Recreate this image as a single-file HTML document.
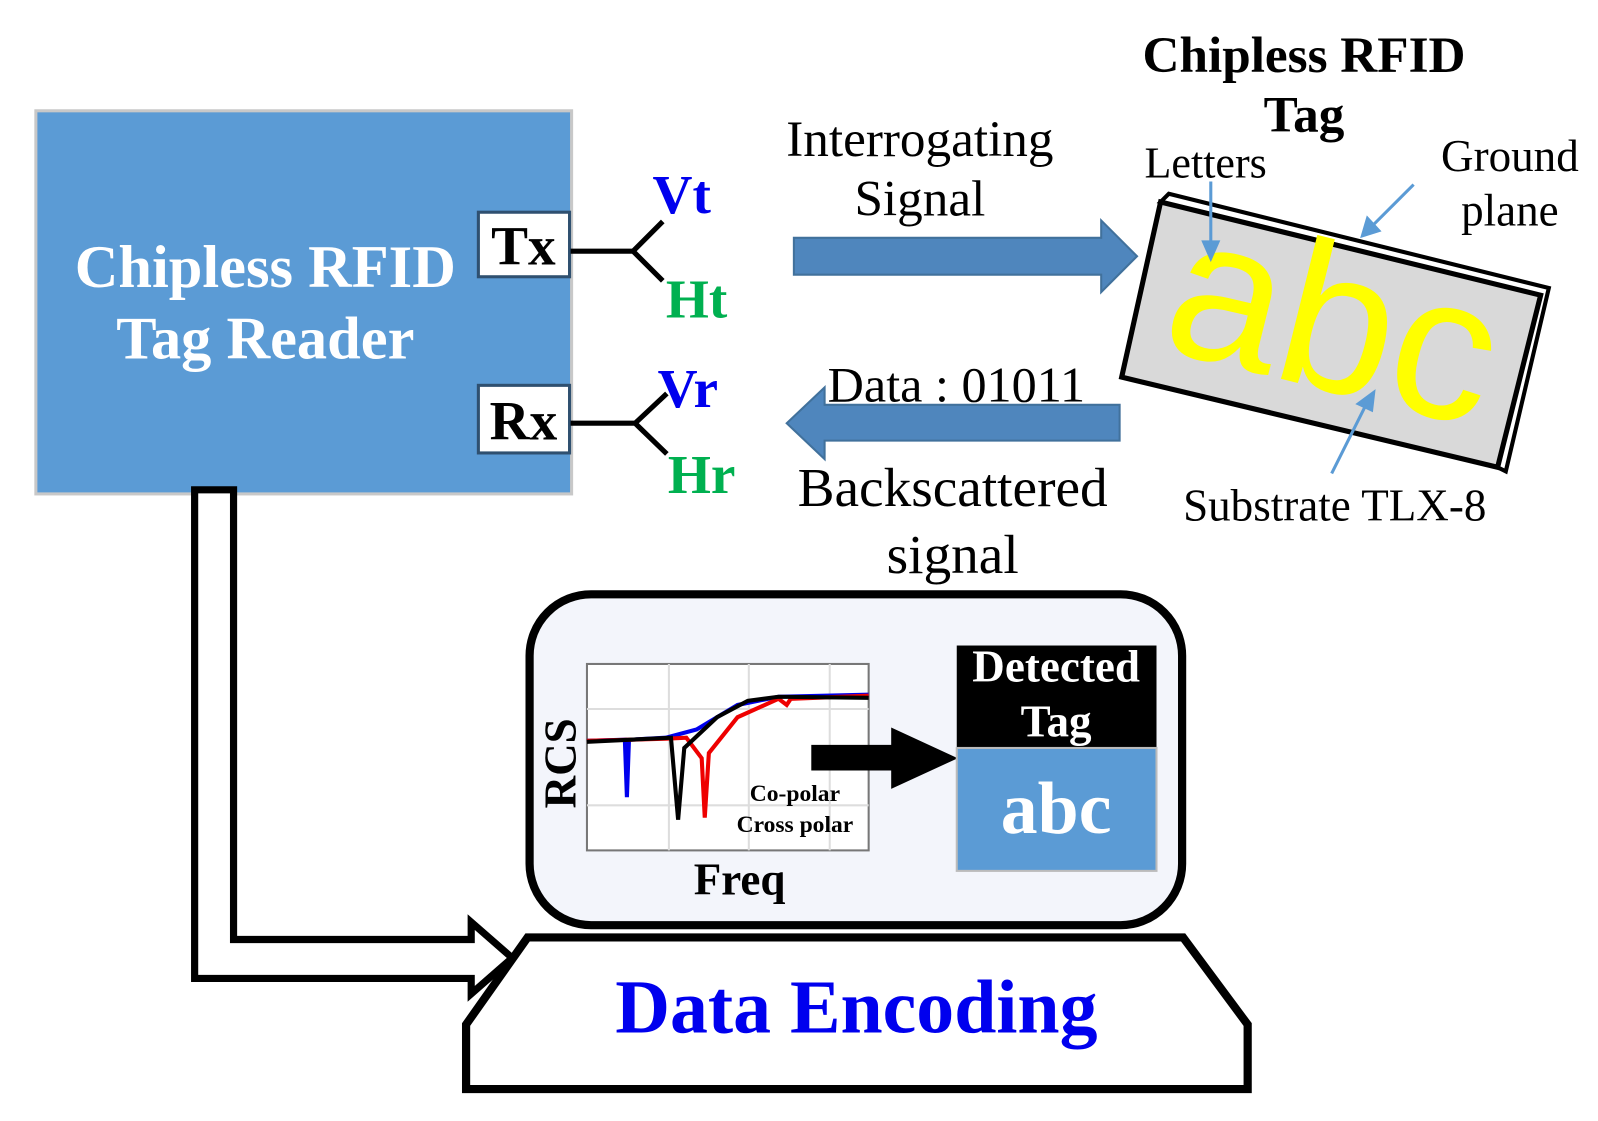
<!DOCTYPE html>
<html><head><meta charset="utf-8"><style>
html,body{margin:0;padding:0;background:#fff;}
svg{display:block;}
text{font-family:"Liberation Serif",serif;}
</style></head><body>
<svg width="1598" height="1121" viewBox="0 0 1560 1094" xmlns="http://www.w3.org/2000/svg">
<rect x="35" y="108" width="523" height="374" fill="#5b9bd5" stroke="#c8c8c8" stroke-width="3"/>
<text x="259" y="280" font-size="59" font-weight="bold" fill="#fff" text-anchor="middle">Chipless RFID</text>
<text x="259" y="350" font-size="59" font-weight="bold" fill="#fff" text-anchor="middle">Tag Reader</text>
<rect x="467" y="207" width="89" height="63" fill="#fff" stroke="#2f5070" stroke-width="3"/>
<text x="511" y="258" font-size="54" font-weight="bold" text-anchor="middle">Tx</text>
<rect x="467" y="376" width="89" height="66" fill="#fff" stroke="#2f5070" stroke-width="3"/>
<text x="511" y="429" font-size="54" font-weight="bold" text-anchor="middle">Rx</text>
<g stroke="#000" stroke-width="5" fill="none">
<path d="M557 245 H618 L647 216 M618 245 L647 274"/>
<path d="M557 413 H620 L651 384 M620 413 L651 443"/>
</g>
<text x="637" y="208" font-size="54" font-weight="bold" fill="#0000ee">Vt</text>
<text x="650" y="310" font-size="54" font-weight="bold" fill="#00b050">Ht</text>
<text x="642" y="397" font-size="54" font-weight="bold" fill="#0000ee">Vr</text>
<text x="652" y="481" font-size="54" font-weight="bold" fill="#00b050">Hr</text>
<path d="M775 232 H1075 V215 L1110 250 L1075 285 V268 H775 Z" fill="#4f86bd" stroke="#41719c" stroke-width="2"/>
<path d="M1093 395 H805 V378 L768 413 L805 448 V430 H1093 Z" fill="#4f86bd" stroke="#41719c" stroke-width="2"/>
<text x="898" y="152" font-size="50" text-anchor="middle">Interrogating</text>
<text x="898" y="210" font-size="50" text-anchor="middle">Signal</text>
<text x="808" y="392" font-size="49">Data : 01011</text>
<text x="930" y="494" font-size="54" text-anchor="middle">Backscattered</text>
<text x="930" y="559" font-size="54" text-anchor="middle">signal</text>
<text x="1273" y="70" font-size="50" font-weight="bold" text-anchor="middle">Chipless RFID</text>
<text x="1273" y="128" font-size="50" font-weight="bold" text-anchor="middle">Tag</text>
<polygon points="1141,189 1512,281 1470,460 1462,456 1504,288 1133,197" fill="#fff" stroke="#000" stroke-width="4"/>
<polygon points="1133,197 1504,288 1462,456 1095,368" fill="#d9d9d9" stroke="#000" stroke-width="5"/>
<g transform="translate(1298,332) rotate(14)">
<text x="0" y="48" font-size="200" fill="#ffff00" text-anchor="middle" style="font-family:'Liberation Sans',sans-serif">abc</text>
</g>
<text x="1177" y="173" font-size="43" text-anchor="middle">Letters</text>
<text x="1474" y="167" font-size="44" text-anchor="middle">Ground</text>
<text x="1474" y="220" font-size="44" text-anchor="middle">plane</text>
<text x="1303" y="508" font-size="44" text-anchor="middle">Substrate TLX-8</text>
<g stroke="#5b9bd5" stroke-width="3" fill="#5b9bd5">
<line x1="1182" y1="177" x2="1182" y2="240"/><polygon points="1175,236 1189,236 1182,252"/>
<line x1="1380" y1="180" x2="1338" y2="222"/><polygon points="1335,213 1346,225 1330,230"/>
<line x1="1300" y1="462" x2="1335" y2="392"/><polygon points="1326,394 1339,400 1341,383"/>
</g>
<path d="M190 478 V955 H460 V970 L500 935 L460 900 V917 H228 V478 Z" fill="#fff" stroke="#000" stroke-width="7"/>
<rect x="517" y="580" width="637" height="323" rx="60" fill="#f3f5fb" stroke="#000" stroke-width="8"/>
<polygon points="515,915 1155,915 1218,1000 1218,1063 455,1063 455,1000" fill="#fff" stroke="#000" stroke-width="8"/>
<text x="836" y="1008" font-size="74" font-weight="bold" fill="#0000ee" text-anchor="middle">Data Encoding</text>
<rect x="573" y="648" width="275" height="182" fill="#fff" stroke="#777" stroke-width="2"/>
<g stroke="#ddd" stroke-width="2">
<line x1="653" y1="648" x2="653" y2="830"/><line x1="731" y1="648" x2="731" y2="830"/><line x1="810" y1="648" x2="810" y2="830"/>
<line x1="573" y1="692" x2="848" y2="692"/><line x1="573" y1="786" x2="848" y2="786"/>
</g>
<g fill="none" stroke-width="4">
<path d="M573 723 L610 722 L612 778 L614 722 L650 720 L680 712 L720 688 L760 680 L848 678" stroke="#0000ee"/>
<path d="M573 723 L650 721 L670 720 L685 740 L688 798 L692 735 L720 700 L760 682 L768 688 L772 682 L848 679" stroke="#ee0000"/>
<path d="M573 724 L655 720 L662 800 L668 730 L700 700 L730 684 L760 680 L848 681" stroke="#000"/>
</g>
<text x="776" y="782" font-size="23" font-weight="bold" text-anchor="middle">Co-polar</text>
<text x="776" y="812" font-size="23" font-weight="bold" text-anchor="middle">Cross polar</text>
<text transform="translate(562,745) rotate(-90)" font-size="44" font-weight="bold" text-anchor="middle">RCS</text>
<text x="722" y="873" font-size="44" font-weight="bold" text-anchor="middle">Freq</text>
<path d="M792 727 H870 V710 L935 740 L870 770 V752 H792 Z" fill="#000"/>
<rect x="934" y="630" width="195" height="100" fill="#000"/>
<rect x="934" y="730" width="195" height="120" fill="#5b9bd5" stroke="#bbb" stroke-width="2"/>
<text x="1031" y="665" font-size="44" font-weight="bold" fill="#fff" text-anchor="middle">Detected</text>
<text x="1031" y="719" font-size="44" font-weight="bold" fill="#fff" text-anchor="middle">Tag</text>
<text x="1031" y="813" font-size="72" font-weight="bold" fill="#fff" text-anchor="middle">abc</text>
</svg>
</body></html>
